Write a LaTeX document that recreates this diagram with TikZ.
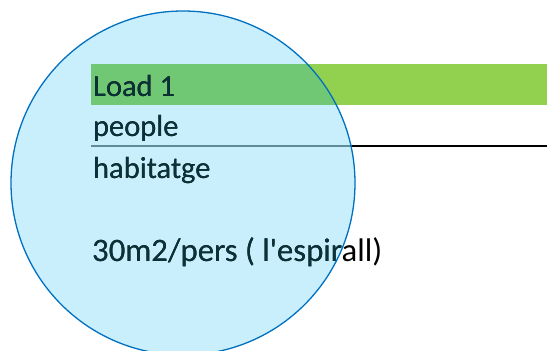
\documentclass[tikz,border=0pt]{standalone}
\usepackage{fontspec}
\setmainfont{Carlito}
\definecolor{cfill}{HTML}{C9EFFD}
\definecolor{cline}{HTML}{0070C0}
\definecolor{gbar}{HTML}{92D050}
\definecolor{gin}{HTML}{71C874}
\definecolor{tin}{HTML}{0B3238}
\definecolor{lin}{HTML}{5E8C98}
\newcommand\lbltexts[2]{%
  \node[txt,text=#1] (#2a) at (93,96) {Load 1};
  \node[txt,text=#1] (#2b) at (93,136.7) {people};
  \node[txt,text=#1] (#2c) at (93,178.3) {habitatge};
  \node[txtbig,text=#1] (#2d) at (92,261.7) {30m2/pers ( l\textquotesingle espirall)};
}
\begin{document}
\begin{tikzpicture}[x=1pt,y=-1pt,
  txt/.style={anchor=base west,inner sep=0pt,font=\fontsize{30.5}{36}\selectfont},
  txtbig/.style={anchor=base west,inner sep=0pt,font=\fontsize{32.7}{38}\selectfont}]
\useasboundingbox (0,0) rectangle (547,351);
\fill[gbar] (91,64) rectangle (547,105);
\draw[black,line width=1.2pt] (91,146) -- (547,146);
\fill[cfill] (183,183) circle[radius=172];
\begin{scope}
  \clip (183,183) circle[radius=172];
  \fill[gin] (91,64) rectangle (547,105);
  \draw[lin,line width=1.2pt] (91,146) -- (547,146);
\end{scope}
\lbltexts{black}{o}
\begin{scope}
  \clip (183,183) circle[radius=172];
  \lbltexts{tin}{i}
\end{scope}
\draw[cline,line width=1.3pt] (183,183) circle[radius=172];
\end{tikzpicture}
\end{document}
